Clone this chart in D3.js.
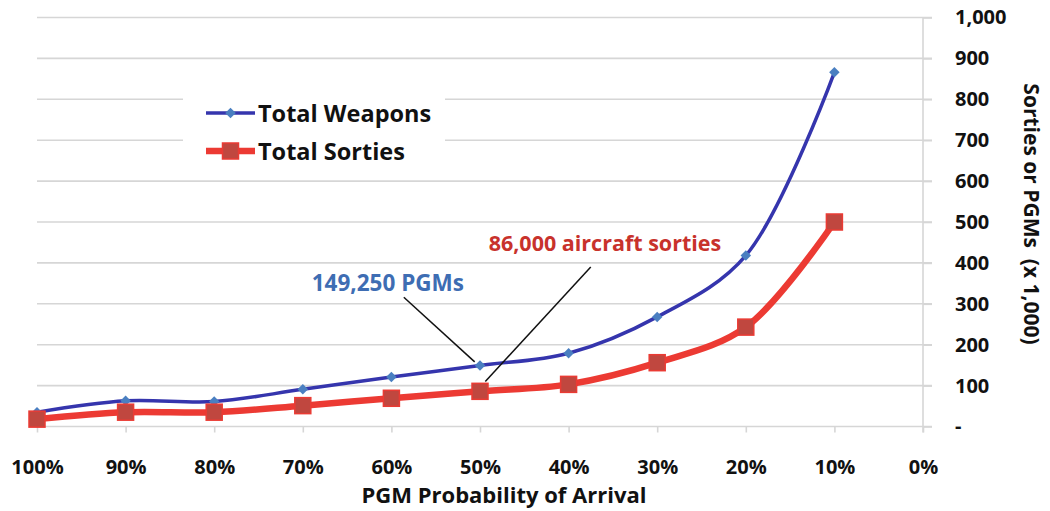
<!DOCTYPE html>
<html>
<head>
<meta charset="utf-8">
<script src="https://cdn.jsdelivr.net/npm/d3@7"></script>
<style>
  html, body { margin: 0; padding: 0; background: #fff; }
  svg { display: block; }
  text { font-family: "Open Sans", Lato, sans-serif; font-weight: bold; }
</style>
</head>
<body>
<svg id="chart" width="1050" height="511"></svg>
<script>
// ---- data ----
const categories = [100, 90, 80, 70, 60, 50, 40, 30, 20, 10];
const totalWeapons = [35, 63, 61, 91, 121, 149.25, 179, 268, 418, 866];
const totalSorties = [18, 35, 35, 51, 69, 86, 103, 156, 243, 500];
const xTicks = [100, 90, 80, 70, 60, 50, 40, 30, 20, 10, 0];
const yTicks = [0, 100, 200, 300, 400, 500, 600, 700, 800, 900, 1000];
const seriesNames = ["Total Weapons", "Total Sorties"];
const annotations = [
  { text: "149,250 PGMs", color: "#3e6db3", size: 22.5, lx: 60.4, ly: 351, sx: 58.6, sy: 316, ex: 50.6, ey: 158 },
  { text: "86,000 aircraft sorties", color: "#c8322c", size: 21.5, lx: 35.9, ly: 451, sx: 37.5, sy: 390, ex: 49.4, ey: 110 }
];

// ---- layout ----
const FONT = "'Open Sans', Lato, sans-serif";
const svg = d3.select("#chart");
const x = d3.scaleLinear().domain([100, 0]).range([37, 923]);
const y = d3.scaleLinear().domain([0, 1000]).range([426.5, 17.5]);
const gridColor = "#d6d6d6";

// gridlines
svg.append("g").selectAll("line").data(yTicks).join("line")
  .attr("x1", x(100)).attr("x2", x(0) + 9)
  .attr("y1", d => y(d)).attr("y2", d => y(d))
  .attr("stroke", gridColor).attr("stroke-width", 1.6);

// right axis
const yAxis = d3.axisRight(y).tickValues(yTicks).tickSize(9).tickPadding(23)
  .tickFormat(d => d === 0 ? "-" : d3.format(",")(d));
const gy = svg.append("g").attr("transform", `translate(${x(0)},0)`).call(yAxis);
gy.select(".domain").attr("stroke", gridColor).attr("stroke-width", 1.6)
  .attr("d", `M0,${y(1000)}V${y(0) + 6}`);
gy.selectAll(".tick line").attr("stroke", gridColor).attr("stroke-width", 1.6);
gy.selectAll(".tick text").attr("font-size", 20).attr("fill", "#111")
  .style("font-family", FONT).style("font-weight", "bold");

// bottom axis
const xAxis = d3.axisBottom(x).tickValues(xTicks).tickSize(6).tickPadding(27)
  .tickFormat(d => d + "%");
const gx = svg.append("g").attr("transform", `translate(0,${y(0)})`).call(xAxis);
gx.select(".domain").remove();
gx.selectAll(".tick line").attr("stroke", gridColor).attr("stroke-width", 1.6);
gx.selectAll(".tick text").attr("font-size", 20).attr("fill", "#111")
  .style("font-family", FONT).style("font-weight", "bold");

// axis titles
svg.append("text").attr("x", 504).attr("y", 503)
  .attr("text-anchor", "middle").attr("font-size", 22).attr("fill", "#111")
  .text("PGM Probability of Arrival");
svg.append("text").attr("transform", `translate(1024,214) rotate(90)`)
  .attr("text-anchor", "middle").attr("font-size", 21).attr("fill", "#111")
  .attr("xml:space", "preserve").style("white-space", "pre")
  .text("Sorties or PGMs  (x 1,000)");

// lines
const curve = d3.curveCatmullRom.alpha(0.5);
const lineGen = d3.line().x(d => x(d[0])).y(d => y(d[1])).curve(curve);
const wData = categories.map((c, i) => [c, totalWeapons[i]]);
const sData = categories.map((c, i) => [c, totalSorties[i]]);

svg.append("path").datum(sData).attr("d", lineGen)
  .attr("fill", "none").attr("stroke", "#ec3a33").attr("stroke-width", 6.5)
  .attr("stroke-linejoin", "round");
svg.append("path").datum(wData).attr("d", lineGen)
  .attr("fill", "none").attr("stroke", "#3535ad").attr("stroke-width", 3.5)
  .attr("stroke-linejoin", "round");

// markers
const diamond = d3.symbol().type(d3.symbolDiamond2).size(70);
svg.append("g").selectAll("path").data(wData).join("path")
  .attr("transform", d => `translate(${x(d[0])},${y(d[1])})`)
  .attr("d", diamond).attr("fill", "#4a7fc1");
svg.append("g").selectAll("rect").data(sData).join("rect")
  .attr("x", d => x(d[0]) - 8).attr("y", d => y(d[1]) - 8)
  .attr("width", 16).attr("height", 16)
  .attr("fill", "#c0473f").attr("stroke", "#ea3b34").attr("stroke-width", 1.5);

// annotations
annotations.forEach(a => {
  svg.append("line")
    .attr("x1", x(a.sx)).attr("y1", y(a.sy)).attr("x2", x(a.ex)).attr("y2", y(a.ey))
    .attr("stroke", "#111").attr("stroke-width", 1.5);
  svg.append("text").attr("x", x(a.lx)).attr("y", y(a.ly))
    .attr("text-anchor", "middle").attr("dominant-baseline", "central")
    .attr("font-size", a.size).attr("fill", a.color).text(a.text);
});

// legend
const lg = svg.append("g");
lg.append("rect").attr("x", 183).attr("y", 76).attr("width", 262).attr("height", 100).attr("fill", "#fff");
const legendItems = [
  { name: seriesNames[0], color: "#3535ad", w: 3.5, cy: 113, marker: "d" },
  { name: seriesNames[1], color: "#ec3a33", w: 6.5, cy: 151, marker: "s" }
];
legendItems.forEach(it => {
  lg.append("line").attr("x1", 206).attr("x2", 255).attr("y1", it.cy).attr("y2", it.cy)
    .attr("stroke", it.color).attr("stroke-width", it.w);
  if (it.marker === "d") {
    lg.append("path").attr("transform", `translate(230.5,${it.cy})`).attr("d", diamond).attr("fill", "#4a7fc1");
  } else {
    lg.append("rect").attr("x", 222.5).attr("y", it.cy - 8).attr("width", 16).attr("height", 16)
      .attr("fill", "#c0473f").attr("stroke", "#ea3b34").attr("stroke-width", 1.5);
  }
  lg.append("text").attr("x", 258).attr("y", it.cy).attr("dominant-baseline", "central")
    .attr("font-size", 23.5).attr("fill", "#111").text(it.name);
});
</script>
</body>
</html>
